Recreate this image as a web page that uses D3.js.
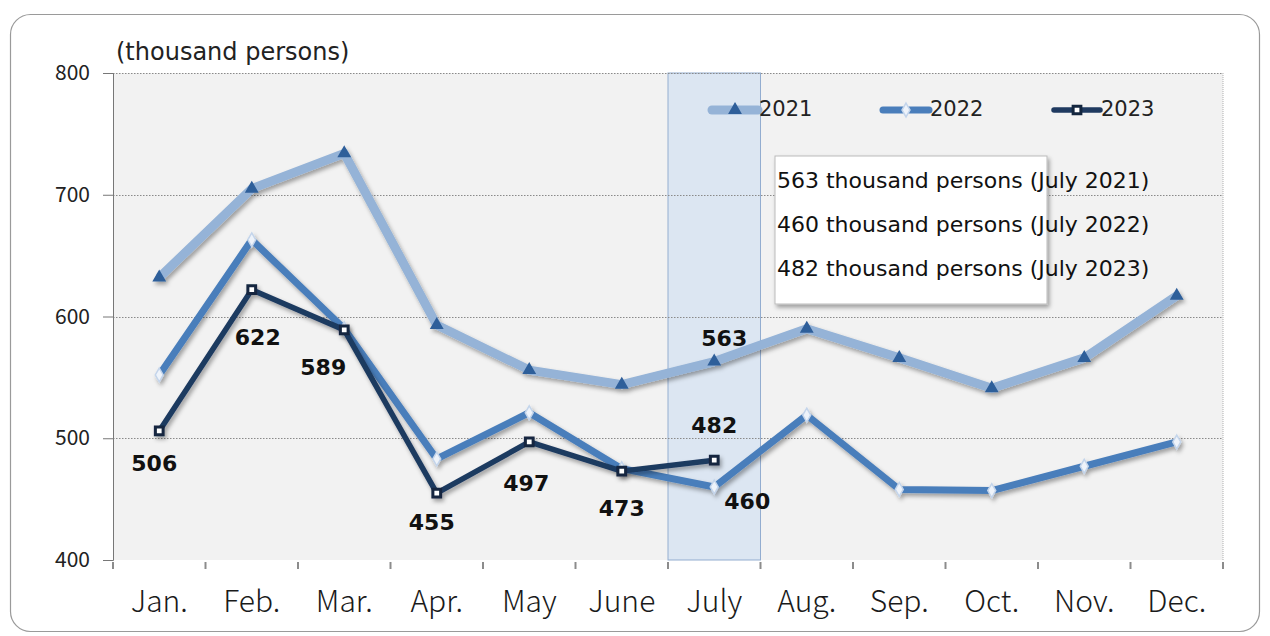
<!DOCTYPE html>
<html>
<head>
<meta charset="utf-8">
<script src="https://cdn.jsdelivr.net/npm/d3@7"></script>
<style>
    body { margin: 0; background: #fff; }
    text { font-family: "Noto Sans CJK KR", "Noto Sans", sans-serif; }
    .wide { font-family: "DejaVu Sans", sans-serif; }
</style>
</head>
<body>
<svg id="svgc" width="1270" height="636"></svg>
<script>
/*global d3 */

var months = ["Jan.", "Feb.", "Mar.", "Apr.", "May", "June", "July",
              "Aug.", "Sep.", "Oct.", "Nov.", "Dec."];
var years = ["2021", "2022", "2023"];
var vals2021 = [632, 705, 734, 593, 556, 544, 563, 590, 566, 541, 566, 617];
var vals2022 = [552, 663, 590, 483, 521, 475, 460, 519, 458, 457, 477, 497];
var vals2023 = [506, 622, 589, 455, 497, 473, 482];
var yTicks = [400, 500, 600, 700, 800];
var noteLines = ["563 thousand persons (July 2021)",
                 "460 thousand persons (July 2022)",
                 "482 thousand persons (July 2023)"];
var highlightMonth = "July";

(function () {
    "use strict";

    var svg = d3.select("#svgc"),
        pa = {left: 113, right: 1223, top: 73, bottom: 560},
        x, y, chart = {}, defs;

    //line looks per series, same order as years
    var looks = [
        {color: "#95b3d7", width: 9, mark: "triangle", mfill: "#2f5f9a", mstroke: "#2f5f9a"},
        {color: "#4a7ebb", width: 7, mark: "diamond", mfill: "#eef3fa", mstroke: "#c4d5eb"},
        {color: "#1f3a60", width: 5.5, mark: "square", mfill: "#ffffff", mstroke: "#14263f"}];

    //label offsets (dx, dy) for the 2023 values
    var lab2023 = [[-5, 34], [6, 49], [-21, 39], [-5, 31], [-3, 43], [0, 39], [0, -33]];


    function makeShadow () {
        defs = svg.append("defs");
        defs.append("filter").attr("id", "shd")
            .attr("x", "-10%").attr("y", "-10%")
            .attr("width", "130%").attr("height", "130%")
            .append("feDropShadow")
            .attr("dx", 2).attr("dy", 3).attr("stdDeviation", 2)
            .attr("flood-color", "#000").attr("flood-opacity", 0.35);
    }


    function drawFrame () {
        svg.append("rect")
            .attr("x", 10.5).attr("y", 14.5)
            .attr("width", 1249).attr("height", 617)
            .attr("rx", 20).attr("ry", 20)
            .attr("fill", "#fff").attr("stroke", "#9a9a9a")
            .attr("stroke-width", 1.2);
        svg.append("rect")
            .attr("x", pa.left).attr("y", pa.top)
            .attr("width", pa.right - pa.left)
            .attr("height", pa.bottom - pa.top)
            .attr("fill", "#f2f2f2");
        svg.append("line")
            .attr("x1", pa.right).attr("x2", pa.right)
            .attr("y1", pa.top).attr("y2", pa.bottom)
            .attr("stroke", "#b0b0b0").attr("stroke-dasharray", "1,1");
        //highlighted month band
        svg.append("rect")
            .attr("x", x(highlightMonth))
            .attr("y", pa.top)
            .attr("width", x.bandwidth())
            .attr("height", pa.bottom - pa.top)
            .attr("fill", "#dce6f2")
            .attr("stroke", "#93add0").attr("stroke-width", 1);
    }


    function drawAxes () {
        var yax, xg, bounds;
        chart.grid = svg.append("g");
        chart.grid.selectAll("line").data(yTicks.slice(1))
            .enter().append("line")
            .attr("x1", pa.left).attr("x2", pa.right)
            .attr("y1", function (d) { return Math.round(y(d)) + 0.5; })
            .attr("y2", function (d) { return Math.round(y(d)) + 0.5; })
            .attr("stroke", "#8a8a8a")
            .attr("stroke-dasharray", "1.5,1.5");
        yax = svg.append("g")
            .attr("transform", "translate(" + pa.left + ",0)")
            .call(d3.axisLeft(y).tickValues(yTicks).tickSize(10).tickPadding(13));
        yax.select(".domain").attr("stroke", "#777");
        yax.selectAll(".tick line").attr("stroke", "#777");
        yax.selectAll("text").attr("font-size", 21).attr("fill", "#222");
        //x axis: thick base with shadow, ticks on month boundaries
        xg = svg.append("g");
        xg.append("line")
            .attr("x1", pa.left - 6).attr("x2", pa.right)
            .attr("y1", pa.bottom + 2).attr("y2", pa.bottom + 2)
            .attr("stroke", "#8c8c8c").attr("stroke-width", 3)
            .attr("filter", "url(#shd)");
        bounds = months.map(function (m) { return x(m); }).concat([pa.right]);
        xg.selectAll("line.tk").data(bounds)
            .enter().append("line").attr("class", "tk")
            .attr("x1", function (d) { return d; })
            .attr("x2", function (d) { return d; })
            .attr("y1", pa.bottom + 2).attr("y2", pa.bottom + 9)
            .attr("stroke", "#8c8c8c").attr("stroke-width", 2);
        xg.selectAll("text").data(months)
            .enter().append("text")
            .attr("x", function (d) { return x(d) + x.bandwidth() / 2; })
            .attr("y", 612)
            .attr("text-anchor", "middle")
            .attr("font-size", 30)
            .attr("font-weight", 300)
            .attr("fill", "#1a1a1a")
            .text(function (d) { return d; });
        svg.append("text").attr("class", "wide")
            .attr("x", 116).attr("y", 60)
            .attr("font-size", 24).attr("fill", "#222")
            .text("(thousand persons)");
    }


    function markerPath (kind, size) {
        var sym = {triangle: d3.symbolTriangle, diamond: d3.symbolDiamond,
                   square: d3.symbolSquare}[kind];
        return d3.symbol().type(sym).size(size)();
    }


    function drawSeries () {
        var all = [vals2021, vals2022, vals2023],
            line = d3.line()
                .x(function (d, i) { return x(months[i]) + x.bandwidth() / 2; })
                .y(function (d) { return y(d); });
        all.forEach(function (vals, si) {
            var lk = looks[si],
                g = svg.append("g").attr("filter", "url(#shd)");
            g.append("path")
                .attr("d", line(vals))
                .attr("fill", "none")
                .attr("stroke", lk.color)
                .attr("stroke-width", lk.width)
                .attr("stroke-linejoin", "round");
            g.selectAll("path.mk").data(vals)
                .enter().append("path").attr("class", "mk")
                .attr("transform", function (d, i) {
                    return "translate(" + (x(months[i]) + x.bandwidth() / 2) +
                        "," + y(d) + ")"; })
                .attr("d", markerPath(lk.mark, lk.mark === "square" ? 60 : 55))
                .attr("fill", lk.mfill)
                .attr("stroke", lk.mstroke)
                .attr("stroke-width", lk.mark === "square" ? 3 : 1.5);
        });
    }


    function drawLabels () {
        var cx = function (i) { return x(months[i]) + x.bandwidth() / 2; },
            ji = months.indexOf(highlightMonth),
            labs = [];
        vals2023.forEach(function (v, i) {
            labs.push({x: cx(i) + lab2023[i][0], y: y(v) + lab2023[i][1], t: v}); });
        labs.push({x: cx(ji) + 10, y: y(vals2021[ji]) - 22, t: vals2021[ji]});
        labs.push({x: cx(ji) + 33, y: y(vals2022[ji]) + 16, t: vals2022[ji]});
        svg.append("g").selectAll("text").data(labs)
            .enter().append("text").attr("class", "wide")
            .attr("x", function (d) { return d.x; })
            .attr("y", function (d) { return d.y; })
            .attr("text-anchor", "middle")
            .attr("dominant-baseline", "middle")
            .attr("font-size", 22)
            .attr("font-weight", "bold")
            .attr("fill", "#111")
            .text(function (d) { return d.t; });
    }


    function drawLegend () {
        var lg = svg.append("g"),
            xs = [712, 883, 1054];
        years.forEach(function (yr, i) {
            var lk = looks[i],
                it = lg.append("g").attr("transform", "translate(" + xs[i] + ",110)");
            it.append("line")
                .attr("x1", 0).attr("x2", 46)
                .attr("stroke", lk.color).attr("stroke-width", lk.width)
                .attr("stroke-linecap", "round");
            it.append("path")
                .attr("transform", "translate(23,0)")
                .attr("d", markerPath(lk.mark, lk.mark === "square" ? 60 : 55))
                .attr("fill", lk.mfill).attr("stroke", lk.mstroke)
                .attr("stroke-width", lk.mark === "square" ? 3 : 1.5);
            it.append("text").attr("class", "wide")
                .attr("x", 47).attr("y", 0)
                .attr("dominant-baseline", "middle")
                .attr("font-size", 21).attr("fill", "#222")
                .text(yr);
        });
    }


    function drawNote () {
        var ng = svg.append("g");
        ng.append("rect")
            .attr("x", 775).attr("y", 156)
            .attr("width", 272).attr("height", 148)
            .attr("fill", "#fff").attr("stroke", "#bbb")
            .attr("filter", "url(#shd)");
        ng.selectAll("text").data(noteLines)
            .enter().append("text").attr("class", "wide")
            .attr("x", 777)
            .attr("y", function (d, i) { return 182 + i * 44; })
            .attr("dominant-baseline", "middle")
            .attr("font-size", 22).attr("fill", "#111")
            .text(function (d) { return d; });
    }


    x = d3.scaleBand().domain(months).range([pa.left, pa.right]).padding(0);
    y = d3.scaleLinear().domain([400, 800]).range([pa.bottom, pa.top]);
    makeShadow();
    drawFrame();
    drawAxes();
    drawSeries();
    drawLegend();
    drawNote();
    drawLabels();
}());
</script>
</body>
</html>
